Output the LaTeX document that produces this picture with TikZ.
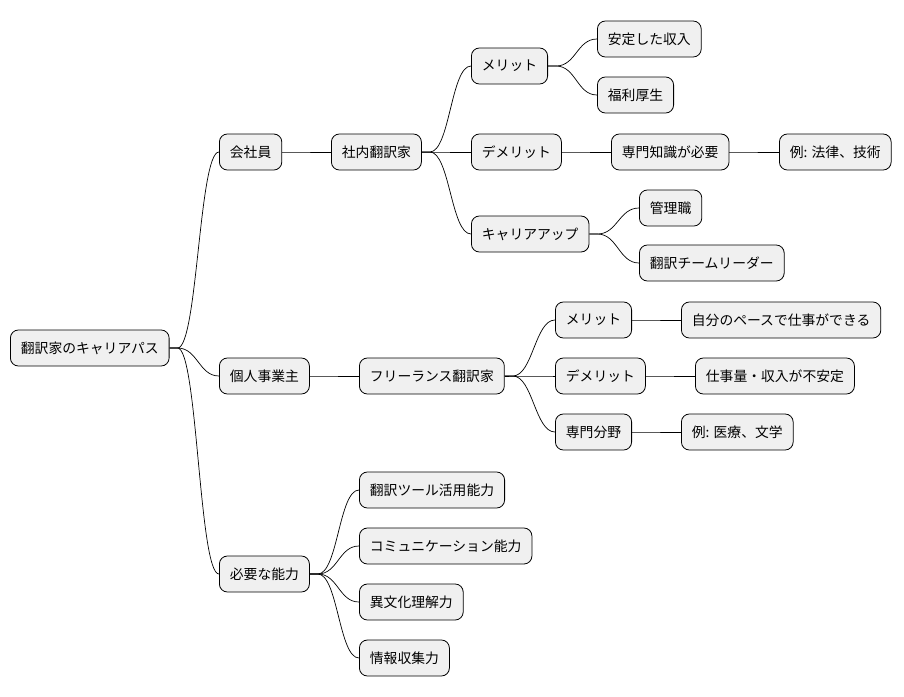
\documentclass[tikz,border=0pt]{standalone}
\usepackage{fontspec}
\setmainfont{Noto Sans CJK JP}
\begin{document}
\begin{tikzpicture}[x=1pt,y=-1pt,
 n/.style={draw=black,fill=black!6,rounded corners=8pt,minimum height=36pt,inner xsep=10.5pt,anchor=west,font=\fontsize{13.8}{15}\selectfont,line width=0.8pt},
 e/.style={draw=black,line width=0.7pt}]
\useasboundingbox (0,0) rectangle (904,696);
\node[n] (r) at (10,348) {翻訳家のキャリアパス};
\node[n] (a) at (219,152) {会社員};
\node[n] (a1) at (331,152) {社内翻訳家};
\node[n] (a11) at (471,66) {メリット};
\node[n] (a111) at (597,39) {安定した収入};
\node[n] (a112) at (597,95) {福利厚生};
\node[n] (a12) at (471,152) {デメリット};
\node[n] (a121) at (611,152) {専門知識が必要};
\node[n] (a122) at (779,152) {例: 法律、技術};
\node[n] (a13) at (471,234) {キャリアアップ};
\node[n] (a131) at (639,208) {管理職};
\node[n] (a132) at (639,263) {翻訳チームリーダー};
\node[n] (b) at (219,376) {個人事業主};
\node[n] (b1) at (359,376) {フリーランス翻訳家};
\node[n] (b11) at (555,320) {メリット};
\node[n] (b111) at (681,320) {自分のペースで仕事ができる};
\node[n] (b12) at (555,376) {デメリット};
\node[n] (b121) at (695,376) {仕事量・収入が不安定};
\node[n] (b13) at (555,432) {専門分野};
\node[n] (b131) at (681,432) {例: 医療、文学};
\node[n] (c) at (219,574) {必要な能力};
\node[n] (c1) at (359,490) {翻訳ツール活用能力};
\node[n] (c2) at (359,546) {コミュニケーション能力};
\node[n] (c3) at (359,602) {異文化理解力};
\node[n] (c4) at (359,658) {情報収集力};
\foreach \p/\c in {r/a,r/b,r/c,a/a1,a1/a11,a1/a12,a1/a13,a11/a111,a11/a112,a12/a121,a121/a122,a13/a131,a13/a132,b/b1,b1/b11,b1/b12,b1/b13,b11/b111,b12/b121,b13/b131,c/c1,c/c2,c/c3,c/c4}
  \draw[e] (\p.east) -- ++(8,0) .. controls +(20,0) and +(-20,0) .. (\c.west);
\end{tikzpicture}
\end{document}
